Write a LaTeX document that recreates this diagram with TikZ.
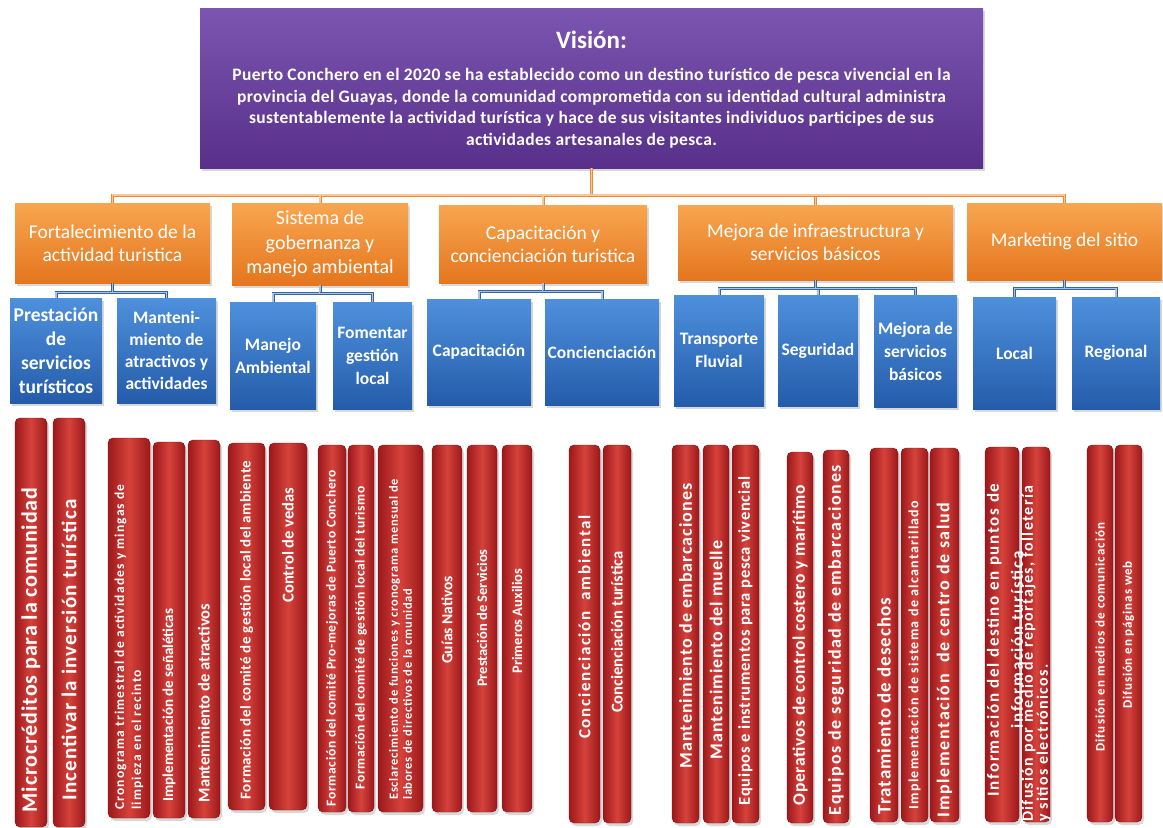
\documentclass[tikz,border=0pt]{standalone}
\usepackage{fontspec}
\setmainfont{Carlito}
\usetikzlibrary{shadows,calc}
\definecolor{purpTop}{HTML}{7C55B0}
\definecolor{purpBot}{HTML}{58308A}
\definecolor{orTop}{HTML}{F8A650}
\definecolor{orBot}{HTML}{E4761E}
\definecolor{blTop}{HTML}{4E90DC}
\definecolor{blBot}{HTML}{245CAA}
\definecolor{rdEdge}{HTML}{9C181B}
\definecolor{rdMid}{HTML}{D6423B}
\definecolor{orLine}{HTML}{EC8A3C}
\definecolor{orLineIn}{HTML}{F9C898}
\definecolor{blLine}{HTML}{36649F}
\definecolor{blLineIn}{HTML}{A9C3E8}
\newcommand\fsz[2]{\fontsize{#1}{#2}\selectfont}
\newcommand\lsp[1]{\addfontfeatures{LetterSpace=#1}}
\tikzset{
  x=1pt, y=-1pt,
  shd/.style={drop shadow={opacity=0.3, shadow xshift=2pt, shadow yshift=-3pt}},
  visbox/.style={shd, top color=purpTop, bottom color=purpBot, draw=none, inner sep=0pt},
  obox/.style={shd, top color=orTop, bottom color=orBot, draw=none, inner sep=0pt, text=white, align=center, font=\fsz{19.5}{23}},
  bbox/.style={shd, top color=blTop, bottom color=blBot, draw=none, inner sep=0pt, text=white, align=center, font=\bfseries\fsz{17.5}{23}},
  barbox/.style={shd, left color=rdEdge, right color=rdEdge, middle color=rdMid, draw=rdEdge!80!black, line width=0.4pt, rounded corners=5pt, inner sep=0pt},
  bartext/.style={rotate=90, text=white, inner sep=0pt, align=left},
  oline/.style={draw=orLine, double=orLineIn, double distance=1.2pt, line width=0.9pt},
  bline/.style={draw=blLine, double=blLineIn, double distance=1.2pt, line width=0.9pt},
}
\newcommand\redbar[5]{\node[barbox, minimum width={(#3-#2)*1pt}, minimum height={(#5-#4)*1pt}] (#1) at ({(#2+#3)/2},{(#4+#5)/2}) {};}
\begin{document}
\begin{tikzpicture}
\path[use as bounding box, fill=white] (0,0) rectangle (1163,828);

% vision
\node[visbox, minimum width=783pt, minimum height=160pt] (V) at (591.5,88) {};
\node[text=white, font=\bfseries\fsz{25}{28}, inner sep=0pt] (vtitle) at (591.5,40) {Visión:};
\node[text=white, font=\bfseries\fsz{17.5}{21.5}\lsp{2}, align=center, inner sep=0pt] (vbody) at (591.5,108) {Puerto Conchero en el 2020 se ha establecido como un destino turístico de pesca vivencial en la\\ provincia del Guayas, donde la comunidad comprometida con su identidad cultural administra\\ sustentablemente la actividad turística y hace de sus visitantes individuos participes de sus\\ actividades artesanales de pesca.};

% orange
\node[obox, minimum width=195pt, minimum height=80pt] (O1) at (112.5,243) {Fortalecimiento de la\\actividad turistica};
\node[obox, minimum width=176pt, minimum height=82pt, font=\fsz{20}{24.5}] (O2) at (320,244) {Sistema de\\gobernanza y\\manejo ambiental};
\node[obox, minimum width=208pt, minimum height=78pt] (O3) at (543,244) {Capacitación y\\concienciación turistica};
\node[obox, minimum width=275pt, minimum height=75pt] (O4) at (815.5,242.5) {Mejora de infraestructura y\\servicios básicos};
\node[obox, minimum width=195pt, minimum height=77pt] (O5) at (1064.5,241.5) {Marketing del sitio};

\coordinate (bus) at (0,195);
\draw[oline] (V.south) -- (V.south |- bus);
\foreach \o in {O1,O2,O3,O4,O5}{\draw[oline] (V.south |- bus) -| (\o.north);}

% blue
\node[bbox, minimum width=92pt, minimum height=105pt, font=\bfseries\fsz{19.5}{24}] (B1) at (56,350.5) {Prestación\\de\\servicios\\turísticos};
\node[bbox, minimum width=99pt, minimum height=105pt, font=\bfseries\fsz{17.5}{22}] (B2) at (166.5,350.5) {Manteni-\\miento de\\atractivos y\\actividades};
\node[bbox, minimum width=86pt, minimum height=107pt] (B3) at (273,355.5) {Manejo\\Ambiental};
\node[bbox, minimum width=79pt, minimum height=107pt] (B4) at (372.5,355.5) {Fomentar\\gestión\\local};
\node[bbox, minimum width=104pt, minimum height=106pt] (B5) at (479,352) {Capacitación};
\node[bbox, minimum width=114pt, minimum height=106pt] (B6) at (602,352) {Concienciación};
\node[bbox, minimum width=90pt, minimum height=111pt] (B7) at (719,350.5) {Transporte\\Fluvial};
\node[bbox, minimum width=80pt, minimum height=111pt] (B8) at (818,350.5) {Seguridad};
\node[bbox, minimum width=83pt, minimum height=112pt] (B9) at (915.5,351) {Mejora de\\servicios\\básicos};
\node[bbox, minimum width=83pt, minimum height=112pt] (B10) at (1014.5,353) {Local};
\node[bbox, minimum width=88pt, minimum height=112pt] (B11) at (1116,353) {Regional};

\coordinate (j1) at ($(O1.south)+(0,9)$);
\coordinate (j2) at ($(O2.south)+(0,8)$);
\coordinate (j3) at ($(O3.south)+(0,8)$);
\coordinate (j4) at ($(O4.south)+(0,8)$);
\coordinate (j5) at ($(O5.south)+(0,8)$);
\draw[bline] (O1.south) -- (j1) -| (B1.north); \draw[bline] (j1) -| (B2.north);
\draw[bline] (O2.south) -- (j2) -| (B3.north); \draw[bline] (j2) -| (B4.north);
\draw[bline] (O3.south) -- (j3) -| (B5.north); \draw[bline] (j3) -| (B6.north);
\draw[bline] (O4.south) -- (j4) -| (B7.north); \draw[bline] (j4) -| (B8.north); \draw[bline] (j4) -| (B9.north);
\draw[bline] (O5.south) -- (j5) -| (B10.north); \draw[bline] (j5) -| (B11.north);

% red bars
\redbar{r1}{15}{47}{418}{827}
\redbar{r2}{53}{85}{418}{827}
\redbar{r3}{108}{150}{438}{818}
\redbar{r4}{153}{185}{442}{818}
\redbar{r5}{188}{220}{440}{818}
\redbar{r6}{228}{265}{443}{810}
\redbar{r7}{269}{307}{443}{810}
\redbar{r8}{318}{346}{445}{812}
\redbar{r9}{348}{374}{445}{812}
\redbar{r10}{378}{423}{445}{812}
\redbar{r11}{432}{462}{445}{812}
\redbar{r12}{467}{497}{445}{812}
\redbar{r13}{502}{532}{445}{812}
\redbar{r14}{569}{600}{445}{823}
\redbar{r15}{603}{631}{445}{823}
\redbar{r16}{672}{699}{445}{823}
\redbar{r17}{703}{729}{445}{823}
\redbar{r18}{732}{759}{445}{823}
\redbar{r19}{787}{813}{452}{823}
\redbar{r20}{823}{849}{450}{823}
\redbar{r21}{870}{898}{448}{822}
\redbar{r22}{901}{928}{448}{822}
\redbar{r23}{930}{959}{448}{822}
\redbar{r24}{985}{1019}{447}{822}
\redbar{r25}{1022}{1050}{447}{822}
\redbar{r26}{1087}{1113}{445}{822}
\redbar{r27}{1115}{1142}{445}{822}

\node[bartext, font=\bfseries\fsz{22}{24}\lsp{4}] (t1) at (r1.center |- 0,650) {Microcréditos para la comunidad};
\node[bartext, font=\bfseries\fsz{21}{24}\lsp{6}] (t2) at (r2.center |- 0,650) {Incentivar la inversión turística};
\node[bartext, anchor=west, font=\bfseries\fsz{13.5}{17}\lsp{8.5}] (t3) at (r3.center |- 0,810) {Cronograma trimestral de actividades y mingas de\\limpieza en el recinto};
\node[bartext, font=\bfseries\fsz{15}{17}] (t4) at (r4.center |- 0,705) {Implementación de señaléticas};
\node[bartext, font=\bfseries\fsz{16.5}{18}] (t5) at (r5.center |- 0,703) {Mantenimiento de atractivos};
\node[bartext, font=\bfseries\fsz{15}{17}\lsp{3}] (t6) at (r6.center |- 0,630) {Formación del comité de gestión local del ambiente};
\node[bartext, font=\bfseries\fsz{16.5}{18}] (t7) at (r7.center |- 0,545) {Control de vedas};
\node[bartext, font=\bfseries\fsz{13.5}{15}\lsp{5}] (t8) at (r8.center |- 0,638) {Formación del comité Pro-mejoras de Puerto Conchero};
\node[bartext, font=\bfseries\fsz{13.5}{15}\lsp{4.5}] (t9) at (r9.center |- 0,638) {Formación del comité de gestión local del turismo};
\node[bartext, anchor=west, font=\bfseries\fsz{12.5}{14}\lsp{6}] (t10) at (r10.center |- 0,800) {Esclarecimiento de funciones y cronograma mensual de\\labores de directivos de la cmunidad};
\node[bartext, font=\bfseries\fsz{15.5}{17}] (t11) at (r11.center |- 0,620) {Guías Nativos};
\node[bartext, font=\bfseries\fsz{14.5}{17}] (t12) at (r12.center |- 0,618) {Prestación de Servicios};
\node[bartext, font=\bfseries\fsz{14.5}{17}] (t13) at (r13.center |- 0,621) {Primeros Auxilios};
\node[bartext, font=\bfseries\fsz{17}{19}\lsp{10}] (t14) at (r14.center |- 0,627) {Concienciación\ \ ambiental};
\node[bartext, font=\bfseries\fsz{16.5}{19}] (t15) at (r15.center |- 0,632) {Concienciación turística};
\node[bartext, font=\bfseries\fsz{18}{20}\lsp{6}] (t16) at (r16.center |- 0,626) {Mantenimiento de embarcaciones};
\node[bartext, font=\bfseries\fsz{18}{20}\lsp{5}] (t17) at (r17.center |- 0,650) {Mantenimiento del muelle};
\node[bartext, font=\bfseries\fsz{16.5}{19}\lsp{4.5}] (t18) at (r18.center |- 0,641) {Equipos e instrumentos para pesca vivencial};
\node[bartext, font=\bfseries\fsz{17.5}{19}\lsp{4}] (t19) at (r19.center |- 0,645) {Operativos de control costero y marítimo};
\node[bartext, font=\bfseries\fsz{18}{20}\lsp{9}] (t20) at (r20.center |- 0,640) {Equipos de seguridad de embarcaciones};
\node[bartext, font=\bfseries\fsz{19}{21}\lsp{5}] (t21) at (r21.center |- 0,706) {Tratamiento de desechos};
\node[bartext, font=\bfseries\fsz{14}{16}\lsp{9}] (t22) at (r22.center |- 0,655) {Implementación de sistema de alcantarillado};
\node[bartext, font=\bfseries\fsz{18}{20}\lsp{9}] (t23) at (r23.center |- 0,660) {Implementación\ \ de centro de salud};
\node[bartext, align=center, font=\bfseries\fsz{17}{24}\lsp{10}] (t24) at ($(r24.center |- 0,640)+(3,0)$) {Información del destino en puntos de\\información turística};
\node[bartext, anchor=west, font=\bfseries\fsz{16}{15}\lsp{8}] (t25) at ($(r25.center |- 0,822)+(0,0)$) {Difusión por medio de reportajes, folletería\\y sitios electrónicos.};
\node[bartext, font=\bfseries\fsz{13}{15}\lsp{8.5}] (t26) at (r26.center |- 0,637) {Difusión en medios de comunicación};
\node[bartext, font=\bfseries\fsz{13}{15}\lsp{6.5}] (t27) at (r27.center |- 0,635) {Difusión en páginas web};
\end{tikzpicture}
\end{document}
